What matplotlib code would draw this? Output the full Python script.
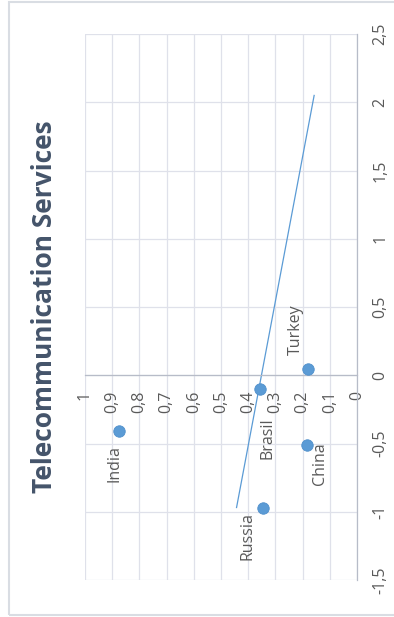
import numpy as np
import matplotlib
matplotlib.use("Agg")
import matplotlib.pyplot as plt
from matplotlib.patches import Rectangle

# 국가별 값 (x: 가로축 값, y: 세로축 값)
countries = ["Turkey", "Brasil", "India", "China", "Russia"]
x_vals = [0.044, -0.098, -0.408, -0.513, -0.969]
y_vals = [0.179, 0.357, 0.875, 0.183, 0.346]

x_ticks = [-1.5, -1, -0.5, 0, 0.5, 1, 1.5, 2, 2.5]
x_tick_labels = ["-1,5", "-1", "-0,5", "0", "0,5", "1", "1,5", "2", "2,5"]
y_ticks = [0, 0.1, 0.2, 0.3, 0.4, 0.5, 0.6, 0.7, 0.8, 0.9, 1]
y_tick_labels = ["0", "0,1", "0,2", "0,3", "0,4", "0,5", "0,6", "0,7", "0,8", "0,9", "1"]

# 추세선 끝 (forward forecast)
trend_end = 2.05

# 라벨 위치 (offset points)
label_offsets = {
    "Turkey": (-8.6, 28.8),
    "Brasil": (5.8, -35.4),
    "India": (-2.9, -23.6),
    "China": (9.1, -13.0),
    "Russia": (-10.8, -20.3),
}

blue = "#5b9bd5"
grid_c = "#dfe1ea"
axis_c = "#b7bcc8"
text_c = "#595959"
fs = 11.5

plt.rcParams["font.family"] = ["Open Sans", "DejaVu Sans"]

fig = plt.figure(figsize=(3.94, 6.17), dpi=100)

# 차트 테두리
fig.patches.append(Rectangle((9 / 394, 2 / 617), 1.2, 613 / 617, transform=fig.transFigure,
                             fill=False, edgecolor="#d9dde3", linewidth=1.5))

# 90도 회전된 차트: 가로 = y 값(1 -> 0), 세로 = x 값
ax = fig.add_axes([85 / 394, 37 / 617, 272 / 394, 546 / 617])
ax.set_xlim(1, 0)
ax.set_ylim(-1.5, 2.5)

# spine 위치를 먼저 잡아야 눈금 설정이 유지됨
ax.spines["left"].set_visible(False)
ax.spines["top"].set_visible(False)
ax.spines["bottom"].set_position(("data", 0))
ax.spines["bottom"].set_color(axis_c)
ax.spines["right"].set_color(axis_c)
for s in ("bottom", "right"):
    ax.spines[s].set_linewidth(0.9)

ax.yaxis.tick_right()
ax.set_xticks(y_ticks)
ax.set_xticklabels(y_tick_labels, rotation=90, color=text_c, fontsize=fs)
ax.set_yticks(x_ticks)
ax.set_yticklabels(x_tick_labels, rotation=90, color=text_c, fontsize=fs, va="center")
ax.tick_params(axis="both", length=0)
ax.tick_params(axis="x", pad=11)
ax.tick_params(axis="y", pad=11)

ax.grid(True, color=grid_c, linewidth=0.9)
ax.set_axisbelow(True)

# 선형 추세선
b, a = np.polyfit(x_vals, y_vals, 1)
tx = np.array([min(x_vals), trend_end])
ax.plot(a + b * tx, tx, color=blue, linewidth=0.9, zorder=2)

ax.scatter(y_vals, x_vals, s=68, color=blue, edgecolor="#4f8fcb", linewidth=0.6, zorder=3)

for name, xv, yv in zip(countries, x_vals, y_vals):
    ax.annotate(name, (yv, xv), xytext=label_offsets[name], textcoords="offset points",
                rotation=90, ha="center", va="center", color=text_c, fontsize=fs)

fig.text(45 / 394, 1 - 307 / 617, "Telecommunication Services", rotation=90,
         ha="center", va="center", fontsize=19, fontweight="bold", color="#44546a")

fig.savefig("out.png", dpi=100)
